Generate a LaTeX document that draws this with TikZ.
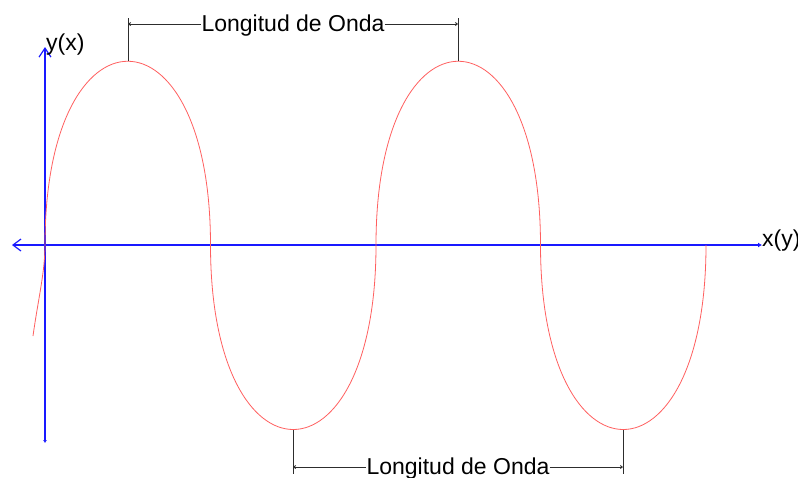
\documentclass[tikz,border=0pt]{standalone}
\usepackage{fontspec}
\setmainfont{Liberation Sans}
\usetikzlibrary{arrows.meta}
\definecolor{wavered}{RGB}{255,95,95}
\definecolor{axisblue}{RGB}{25,25,255}
\definecolor{dimgray}{RGB}{45,45,45}
\begin{document}
\begin{tikzpicture}[x=1pt,y=-1pt,
  wave/.style={draw=wavered, line width=0.8pt},
  axis/.style={draw=axisblue, line width=1.2pt},
  dimline/.style={draw=dimgray, line width=0.9pt},
  lbl/.style={font=\fontsize{23}{27}\selectfont, inner sep=0pt}]
\useasboundingbox (0,0) rectangle (798,477);
% axes
\coordinate (xl) at (12,245);
\coordinate (xr) at (762,245);
\coordinate (yt) at (45,47);
\coordinate (yb) at (45,443);
\draw[axis, {Straight Barb[length=8pt,width=12pt]}-{Latex[length=4pt,width=5pt]}] (xl) -- (xr);
\draw[axis, {Latex[length=3pt,width=4pt]}-{Straight Barb[length=9pt,width=12pt]}] (yb) -- (yt);
\node[lbl, anchor=base west] (ylab) at (46,50) {y(x)};
\node[lbl, anchor=base west] (xlab) at (762,246) {x(y)};
% wave
\draw[wave] (33,336) .. controls (38,300) and (45,272) .. (45,245)
  .. controls (45,0) and (210.5,0) .. (210.5,245)
  .. controls (210.5,491) and (376,491) .. (376,245)
  .. controls (376,0) and (540.5,0) .. (540.5,245)
  .. controls (540.5,491) and (706,491) .. (706,245);
% top dimension
\coordinate (p1) at (128,61);
\coordinate (p2) at (458,61);
\coordinate (t1) at (128,18);
\coordinate (t2) at (458,18);
\coordinate (a1) at (128,24);
\coordinate (a2) at (458,24);
\node[lbl, anchor=base] (top) at (293,31.7) {Longitud de Onda};
\draw[dimline] (p1) -- (t1);
\draw[dimline] (p2) -- (t2);
\draw[dimline, {Straight Barb[length=2pt,width=3pt]}-] (a1) -- (a1 -| top.west);
\draw[dimline, -{Straight Barb[length=2pt,width=3pt]}] (a2 -| top.east) -- (a2);
% bottom dimension
\coordinate (q1) at (293,430);
\coordinate (q2) at (623,430);
\coordinate (b1) at (293,474);
\coordinate (b2) at (623,474);
\coordinate (c1) at (293,467);
\coordinate (c2) at (623,467);
\node[lbl, anchor=base] (bot) at (458,474) {Longitud de Onda};
\draw[dimline] (q1) -- (b1);
\draw[dimline] (q2) -- (b2);
\draw[dimline, {Straight Barb[length=2pt,width=3pt]}-] (c1) -- (c1 -| bot.west);
\draw[dimline, -{Straight Barb[length=2pt,width=3pt]}] (c2 -| bot.east) -- (c2);
\end{tikzpicture}
\end{document}
